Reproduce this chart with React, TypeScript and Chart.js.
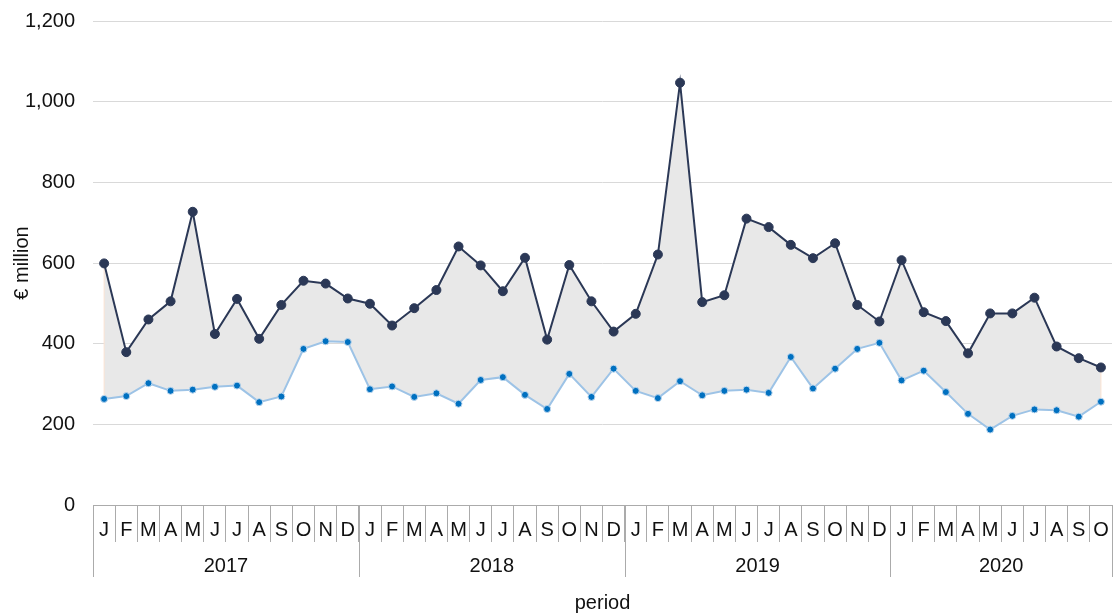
import React, { useEffect, useRef } from "react";
import { Chart, registerables } from "chart.js";

Chart.register(...registerables);

const monthLetters = ["J", "F", "M", "A", "M", "J", "J", "A", "S", "O", "N", "D"];
const years = ["2017", "2018", "2019", "2020"];
const monthsPerYear = [12, 12, 12, 10];

const upperValues = [
  599, 379, 460, 505, 727, 424, 511, 412, 496, 556, 549, 512,
  499, 445, 488, 533, 641, 594, 530, 613, 410, 595, 505, 430,
  474, 621, 1047, 503, 520, 710, 689, 645, 612, 649, 496, 455,
  607, 478, 456, 376, 475, 475, 514, 393, 364, 341,
];

const lowerValues = [
  263, 270, 302, 283, 286, 293, 296, 255, 269, 387, 406, 404,
  287, 294, 268, 277, 251, 310, 317, 273, 238, 325, 268, 338,
  283, 265, 307, 272, 283, 286, 278, 367, 289, 338, 387, 402,
  309, 333, 280, 226, 187, 221, 237, 235, 219, 256,
];

const yTicks = { min: 0, max: 1200, step: 200 };

const categoryLabels: string[] = [];
monthsPerYear.forEach((n) => {
  for (let i = 0; i < n; i++) categoryLabels.push(monthLetters[i]);
});

const FONT = "'Liberation Sans', Arial, sans-serif";
const TEXT = "#111111";
const AXIS_GREY = "#ABABAB";

const yearRowPlugin = {
  id: "yearRow",
  beforeDatasetsDraw(chart: any) {
    const { ctx, scales } = chart;
    const x = scales.x;
    const y = scales.y;
    const last = upperValues.length - 1;
    ctx.save();
    ctx.strokeStyle = "#FBE3D3";
    ctx.lineWidth = 1;
    [0, last].forEach((i) => {
      const px = x.getPixelForValue(i);
      ctx.beginPath();
      ctx.moveTo(px, y.getPixelForValue(upperValues[i]));
      ctx.lineTo(px, y.getPixelForValue(lowerValues[i]));
      ctx.stroke();
    });
    ctx.restore();
  },
  afterDraw(chart: any) {
    const { ctx, scales } = chart;
    const x = scales.x;
    const top = x.top;
    const sepBottom = top + 72;
    ctx.save();
    ctx.strokeStyle = AXIS_GREY;
    ctx.lineWidth = 1;
    ctx.fillStyle = TEXT;
    ctx.font = `20px ${FONT}`;
    ctx.textAlign = "center";
    ctx.textBaseline = "middle";
    let start = 0;
    const boundaries: number[] = [];
    years.forEach((yr, k) => {
      const end = start + monthsPerYear[k] - 1;
      const left = start === 0 ? x.left : (x.getPixelForValue(start - 1) + x.getPixelForValue(start)) / 2;
      const right = end === categoryLabels.length - 1 ? x.right : (x.getPixelForValue(end) + x.getPixelForValue(end + 1)) / 2;
      if (k === 0) boundaries.push(left);
      boundaries.push(right);
      ctx.fillText(yr, (left + right) / 2, top + 61);
      start = end + 1;
    });
    boundaries.forEach((bx) => {
      const px = Math.round(bx) + 0.5;
      ctx.beginPath();
      ctx.moveTo(px, top);
      ctx.lineTo(px, sepBottom);
      ctx.stroke();
    });
    ctx.restore();
  },
};

export default function App() {
  const canvasRef = useRef<HTMLCanvasElement | null>(null);

  useEffect(() => {
    document.body.style.margin = "0";
    const canvas = canvasRef.current;
    if (!canvas) return;
    const chart = new Chart(canvas, {
      type: "line",
      data: {
        labels: categoryLabels,
        datasets: [
          {
            label: "upper",
            data: upperValues,
            borderColor: "#2B3856",
            backgroundColor: "#E8E8E8",
            borderWidth: 2,
            pointRadius: 4.5,
            pointBackgroundColor: "#2B3856",
            pointBorderColor: "#2B3856",
            pointBorderWidth: 1,
            fill: "+1",
            tension: 0,
          },
          {
            label: "lower",
            data: lowerValues,
            borderColor: "#9DC3E6",
            backgroundColor: "#0070C0",
            borderWidth: 2,
            pointRadius: 3.5,
            pointBackgroundColor: "#0070C0",
            pointBorderColor: "#BDD7EE",
            pointBorderWidth: 1,
            fill: false,
            tension: 0,
          },
        ],
      },
      options: {
        animation: false,
        responsive: true,
        maintainAspectRatio: false,
        layout: { autoPadding: false, padding: { top: 21, right: 2, left: 0, bottom: 0 } },
        plugins: {
          legend: { display: false },
          tooltip: { enabled: false },
          filler: { drawTime: "beforeDatasetsDraw" },
        } as any,
        scales: {
          x: {
            type: "category",
            offset: true,
            grid: {
              display: true,
              offset: true,
              drawOnChartArea: false,
              drawTicks: true,
              tickLength: 37,
              color: AXIS_GREY,
              lineWidth: 1,
            },
            border: { display: true, color: AXIS_GREY, width: 1 },
            ticks: {
              autoSkip: false,
              maxRotation: 0,
              minRotation: 0,
              padding: -24,
              color: TEXT,
              font: { family: FONT, size: 20 },
            },
            title: {
              display: true,
              text: "period",
              color: TEXT,
              font: { family: FONT, size: 20 },
              padding: { top: 73, bottom: 0 },
            },
          },
          y: {
            min: yTicks.min,
            max: yTicks.max,
            grid: {
              color: "#D9D9D9",
              lineWidth: 1,
              drawTicks: true,
              tickLength: 18,
              tickColor: "rgba(0,0,0,0)",
            },
            border: { display: false },
            ticks: {
              stepSize: yTicks.step,
              padding: 0,
              color: TEXT,
              font: { family: FONT, size: 20 },
              callback: (v: any) => Number(v).toLocaleString("en-US"),
            },
            title: {
              display: true,
              text: "€ million",
              color: TEXT,
              font: { family: FONT, size: 20 },
              padding: { top: 10, bottom: -9 },
            },
          },
        },
      },
      plugins: [yearRowPlugin],
    });
    return () => chart.destroy();
  }, []);

  return (
    <div style={{ position: "relative", width: 1114, height: 615 }}>
      <canvas ref={canvasRef} />
    </div>
  );
}
